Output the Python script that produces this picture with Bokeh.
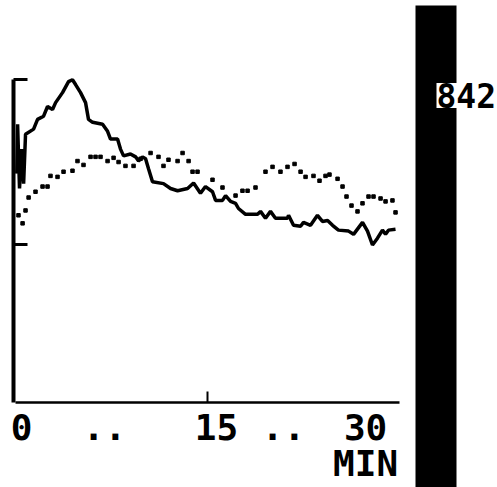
from bokeh.plotting import figure
from bokeh.layouts import row
from bokeh.models import Range1d, LinearAxis, FixedTicker, BoxAnnotation, Label
from bokeh.embed import file_html
from bokeh.resources import INLINE

# ---- data (minutes, arbitrary units) ----
solid_t = [0.1, 0.16, 0.31, 0.47, 0.63, 0.78, 1.41, 1.72, 2.19, 2.5, 2.89, 3.13, 3.67,
           4.14, 4.45, 4.69, 5.08, 5.47, 5.70, 6.02, 6.80, 7.19, 7.42, 7.97, 8.20, 8.44,
           8.98, 9.38, 9.61, 9.92, 10.16, 10.39, 10.70, 11.56, 12.11, 12.66, 13.44, 13.91,
           14.45, 14.84, 15.39, 15.63, 16.17, 16.41, 16.80, 17.19, 17.42, 17.97, 18.91,
           19.14, 19.53, 19.92, 20.31, 21.25, 21.33, 21.72, 22.27, 22.5, 23.05, 23.59,
           23.98, 24.38, 24.77, 25.23, 26.02, 26.41, 27.11, 27.5, 27.89, 28.28, 28.67,
           28.91, 29.14, 29.69]
solid_v = [70.9, 86.2, 66.3, 78.5, 67.8, 83.1, 84.7, 87.7, 88.7, 91.7, 90.8, 92.9, 96.0,
           99.4, 100.0, 98.5, 96.0, 92.9, 87.7, 86.8, 86.2, 84.0, 81.6, 81.6, 78.5, 76.4,
           77.0, 76.1, 74.8, 76.1, 75.5, 72.4, 68.4, 67.8, 66.3, 65.6, 66.3, 68.0,
           64.8, 66.9, 65.3, 62.6, 62.6, 64.1, 62.3, 61.7, 60.1, 58.3, 58.3,
           59.2, 57.1, 59.2, 57.1, 57.1, 58.0, 54.9, 54.6, 55.8, 54.9, 58.0,
           56.1, 56.4, 54.9, 53.4, 53.1, 52.1, 55.8, 53.1, 48.8, 50.9, 53.4,
           52.1, 53.4, 53.7]

dot_t = [0.23, 0.55, 0.78, 1.02, 1.56, 2.11, 2.5, 2.73, 3.28, 3.75, 4.45, 4.84, 5.31,
         5.86, 6.25, 6.64, 7.19, 7.66, 8.05, 8.59, 9.22, 9.77, 10.55, 11.17, 11.56, 11.95,
         12.66, 13.05, 13.52, 13.83, 14.22, 15.39, 16.17, 17.19, 17.73, 18.13, 18.75,
         19.53, 20.08, 20.70, 21.25, 21.80, 22.27, 22.66, 23.28, 23.75, 24.22, 24.53,
         25.16, 25.55, 25.86, 26.25, 26.72, 27.11, 27.58, 27.97, 28.52, 28.91, 29.45, 29.69]
dot_v = [58.0, 55.5, 59.5, 63.5, 65.3, 66.9, 66.9, 70.2, 69.9, 71.5, 71.8, 74.8, 73.6,
         76.1, 76.1, 76.1, 74.8, 75.8, 74.5, 73.3, 73.3, 75.5, 77.3, 76.1, 73.3, 75.2,
         74.8, 77.3, 74.8, 71.5, 71.5, 69.0, 66.6, 64.1, 65.6, 65.6, 66.6,
         71.5, 73.0, 71.5, 73.0, 73.9, 71.5, 69.9, 70.2, 68.7, 70.2, 70.6,
         69.3, 66.9, 63.8, 61.0, 59.2, 61.7, 63.8, 63.8, 63.2, 62.3, 62.6, 58.9]

x_tick_pos = [0.47, 6.95, 15.7, 20.94, 27.35]
x_tick_text = ["0", "..", "15", "..", "30\nMIN"]
x_marked_tick = [15]
y_ticks = [49, 100]
side_value = "842"

FONT = "DejaVu Sans Mono"

p = figure(width=410, height=487, x_range=Range1d(-0.16, 30.86), y_range=Range1d(0, 124.54),
           output_backend="svg", toolbar_location=None,
           x_axis_location=None, y_axis_location=None,
           min_border=0, min_border_left=13, min_border_bottom=81, min_border_right=0)
p.frame_align = False
p.grid.grid_line_color = None
p.outline_line_color = None
p.background_fill_color = "white"
p.border_fill_color = "white"

yaxis = LinearAxis(ticker=FixedTicker(ticks=[], minor_ticks=y_ticks), bounds=(0, 100),
                   axis_line_width=4, axis_line_color="black",
                   major_tick_line_color=None,
                   minor_tick_in=14, minor_tick_out=0, minor_tick_line_width=3,
                   minor_tick_line_color="black", major_label_standoff=0)
p.add_layout(yaxis, "left")

xaxis = LinearAxis(ticker=FixedTicker(ticks=x_tick_pos, minor_ticks=x_marked_tick), bounds=(0, 30),
                   axis_line_width=2.5, axis_line_color="black",
                   major_tick_in=0, major_tick_out=0,
                   minor_tick_in=11, minor_tick_out=0, minor_tick_line_width=2,
                   minor_tick_line_color="black",
                   major_label_overrides={k: v for k, v in zip(x_tick_pos, x_tick_text)},
                   major_label_text_font=FONT, major_label_text_font_style="bold",
                   major_label_text_font_size="36px", major_label_text_color="black",
                   major_label_text_line_height=0.9,
                   major_label_standoff=4)
p.add_layout(xaxis, "below")

p.scatter(dot_t, dot_v, marker="square", size=3.5, color="black")
p.line(solid_t, solid_v, line_width=3.5, color="black")

# side panel: dark bar with the readout
p2 = figure(width=87, height=487, x_range=Range1d(0, 87), y_range=Range1d(0, 487),
            output_backend="svg", toolbar_location=None,
            x_axis_location=None, y_axis_location=None, min_border=0)
p2.frame_align = False
p2.grid.grid_line_color = None
p2.outline_line_color = None
p2.background_fill_color = "white"
p2.border_fill_color = "white"
p2.add_layout(BoxAnnotation(left=5, right=46, top=482, bottom=-5, fill_color="black",
                            fill_alpha=1.0, line_color=None))
p2.add_layout(Label(x=26, y=392, text=side_value, text_align="left",
                    text_baseline="middle", text_font=FONT, text_font_style="bold",
                    text_font_size="33px", text_color="black",
                    background_fill_color="white", background_fill_alpha=1.0))

layout = row(p, p2, spacing=0)
open("out.html", "w").write(file_html(layout, INLINE))
